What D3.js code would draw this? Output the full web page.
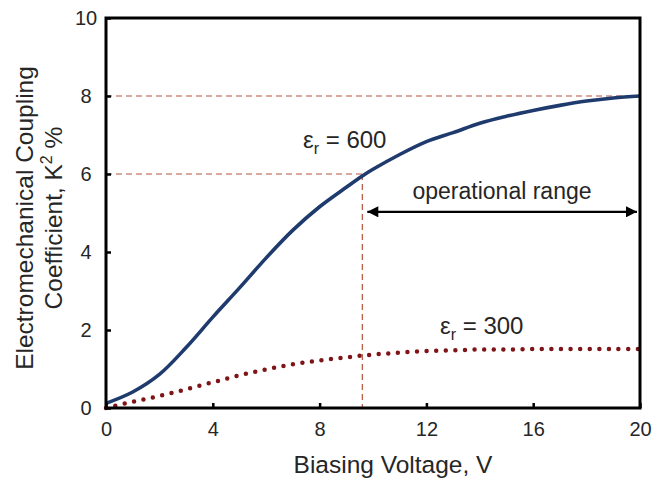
<!DOCTYPE html>
<html><head><meta charset="utf-8">
<script src="https://cdn.jsdelivr.net/npm/d3@7"></script>
<style>body{margin:0;background:#fff}svg{display:block}text{font-family:"Liberation Sans",Arial,sans-serif}</style>
</head><body><svg id="c" width="652" height="479"></svg>
<script>
const voltage600 = [0,1,2,3,4,5,6,7,8,9,9.6,10,11,12,13,14,15,16,17,18,19,20];
const k2_600 = [0.12,0.41,0.86,1.55,2.33,3.08,3.85,4.56,5.16,5.66,5.95,6.12,6.5,6.83,7.06,7.3,7.48,7.63,7.76,7.87,7.95,8.0];
const voltage300 = [0,1,2,3,4,5,6,7,8,9,10,11,12,13,14,15,16,17,18,19,20];
const k2_300 = [0,0.16,0.31,0.48,0.66,0.84,0.99,1.12,1.22,1.3,1.37,1.42,1.46,1.48,1.5,1.5,1.51,1.51,1.51,1.51,1.51];
const xTicks = [0,4,8,12,16,20];
const yTicks = [0,2,4,6,8,10];
const opStart = 9.6, opEnd = 20, refK8 = 8, refK6 = 6;

const svg = d3.select("#c");
const L=106, R=640, T=18, B=408;
const x = d3.scaleLinear().domain([0,20]).range([L,R]);
const y = d3.scaleLinear().domain([0,10]).range([B,T]);
const txt="#262626";

const dash = {stroke:"#b5523b", w:1.2, d:"6,4"};
function dl(x1,y1,x2,y2){svg.append("line").attr("x1",x(x1)).attr("y1",y(y1)).attr("x2",x(x2)).attr("y2",y(y2))
  .attr("stroke",dash.stroke).attr("stroke-width",dash.w).attr("stroke-dasharray",dash.d);}
dl(0,refK8,20,refK8);
dl(0,refK6,opStart,refK6);
dl(opStart,refK6,opStart,0);

const line = d3.line().curve(d3.curveCatmullRom.alpha(0.5));
svg.append("path").attr("d",line(voltage300.map((v,i)=>[x(v),y(k2_300[i])])))
  .attr("fill","none").attr("stroke","#7f1416").attr("stroke-width",4.5)
  .attr("stroke-linecap","round").attr("stroke-dasharray","0 9.6");
svg.append("path").attr("d",line(voltage600.map((v,i)=>[x(v),y(k2_600[i])])))
  .attr("fill","none").attr("stroke","#1f3b6e").attr("stroke-width",3.6).attr("stroke-linejoin","round");

svg.append("rect").attr("x",L).attr("y",T).attr("width",R-L).attr("height",B-T)
  .attr("fill","none").attr("stroke","#000").attr("stroke-width",3);

const gx = svg.append("g").attr("transform",`translate(0,${B})`)
  .call(d3.axisBottom(x).tickValues(xTicks).tickSizeInner(-5).tickSizeOuter(0).tickPadding(14));
const gy = svg.append("g").attr("transform",`translate(${L},0)`)
  .call(d3.axisLeft(y).tickValues(yTicks).tickSizeInner(-5).tickSizeOuter(0).tickPadding(14));
[gx,gy].forEach(g=>{g.select(".domain").remove();
  g.selectAll(".tick line").attr("stroke","#000").attr("stroke-width",2.5);
  g.selectAll(".tick text").attr("fill",txt).style("font-size","20px").style("font-family","Liberation Sans, Arial, sans-serif");});
gy.selectAll(".tick text").attr("text-anchor","middle").attr("x",-20);
gx.selectAll(".tick text").attr("dy","0.68em");

svg.append("text").attr("x",393).attr("y",473).attr("text-anchor","middle").attr("fill",txt)
  .style("font-size","24.5px").text("Biasing Voltage, V");
const yt = svg.append("text").attr("transform","translate(0,218) rotate(-90)").attr("text-anchor","middle").attr("fill",txt).style("font-size","24.5px");
yt.append("tspan").attr("x",0).attr("y",33).text("Electromechanical Coupling");
const t2 = yt.append("tspan").attr("x",0).attr("y",62);
t2.append("tspan").text("Coefficient, K");
t2.append("tspan").attr("dy",-10).style("font-size","16px").text("2");
t2.append("tspan").attr("dy",10).text(" %");

function eps(xp,yp,val){
  const t=svg.append("text").attr("x",xp).attr("y",yp).attr("fill",txt).style("font-size","24px");
  t.append("tspan").text("ε");
  t.append("tspan").attr("dy",6).style("font-size","16px").text("r");
  t.append("tspan").attr("dy",-6).text(" = "+val);
}
eps(303,148,"600");
eps(440,334,"300");

svg.append("text").attr("x",502).attr("y",199).attr("text-anchor","middle").attr("fill",txt)
  .style("font-size","23px").text("operational range");
svg.append("defs").html('<marker id="ah" viewBox="0 0 10 10" refX="10" refY="5" markerWidth="13" markerHeight="11" markerUnits="userSpaceOnUse" orient="auto-start-reverse"><path d="M0,0L10,5L0,10z" fill="#000"/></marker>');
const ay = y(5.03);
svg.append("line").attr("x1",x(opStart)+5).attr("x2",x(opEnd)-3).attr("y1",ay).attr("y2",ay)
  .attr("stroke","#000").attr("stroke-width",2.2).attr("marker-start","url(#ah)").attr("marker-end","url(#ah)");
</script></body></html>
